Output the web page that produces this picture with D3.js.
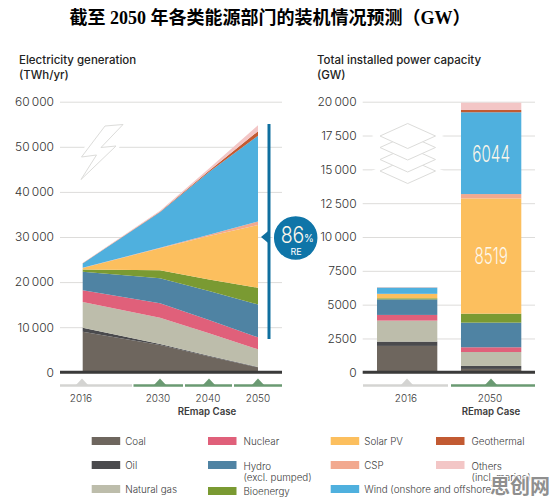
<!DOCTYPE html>
<html>
<head>
<meta charset="utf-8">
<script src="https://cdn.jsdelivr.net/npm/d3@7/dist/d3.min.js"></script>
<style>
html,body{margin:0;padding:0;background:#fff;}
svg{display:block;}
text{font-family:Inter,"Open Sans",sans-serif;fill:#3c3c3c;}
.domain{display:none;}
</style>
</head>
<body>
<svg width="556" height="504"></svg>
<script>
var keys = ["Coal","Oil","Natural gas","Nuclear","Hydro","Bioenergy","Solar PV","CSP","Wind","Geothermal","Others"]
var colors = ["#6e665e","#4a4a4d","#bdbdab","#e0607a","#4f83a3","#7a9a32","#fcbf5e","#f2a98f","#4fb0de","#c25a32","#f3c6c6"]

// left chart, thickness of each layer in TWh/yr
var genYears = [2016,2030,2040,2050]
var genCoal = [9000,6050,3500,1100]
var genOil = [900,250,150,100]
var genGas = [5700,5800,5000,3900]
var genNuclear = [2600,3200,2950,2650]
var genHydro = [4100,5550,6400,7300]
var genBio = [500,1750,2600,3700]
var genSolar = [350,4900,9600,13900]
var genCsp = [50,100,300,800]
var genWind = [950,7900,13900,19000]
var genGeo = [30,100,300,1000]
var genOthers = [70,200,500,1350]
var genTicks = [0,10000,20000,30000,40000,50000,60000]
var genTickLabels = ["0","10\u2009000","20\u2009000","30\u2009000","40\u2009000","50\u2009000","60\u2009000"]

// right chart, GW
var capYears = ["2016","2050"]
var cap2016 = [1950,320,1550,420,1150,80,320,10,460,10,20]
var cap2050 = [250,220,1030,350,1820,665,8519,321,6044,170,540]
var capTicks = [0,2500,5000,7500,10000,12500,15000,17500,20000]
var capTickLabels = ["0","2500","5000","7500","10\u2009000","12\u2009500","15\u2009000","17\u2009500","20\u2009000"]

var genSeries = [genCoal,genOil,genGas,genNuclear,genHydro,genBio,genSolar,genCsp,genWind,genGeo,genOthers]
var legendLabels = [["Coal"],["Oil"],["Natural gas"],["Nuclear"],["Hydro","(excl. pumped)"],["Bioenergy"],["Solar PV"],["CSP"],["Wind (onshore and offshore)"],["Geothermal"],["Others","(incl. marine)"]]

var svg = d3.select("svg")
var green = "#6a9a72", gray = "#d4d4d2"

svg.append("text").attr("x",270).attr("y",24).attr("text-anchor","middle")
   .style("font-family",'"Liberation Serif","Noto Sans CJK SC",serif')
   .style("font-weight","bold").style("font-size","18px").style("fill","#000")
   .text("截至 2050 年各类能源部门的装机情况预测（GW）")

var y1 = d3.scaleLinear().domain([0,60000]).range([372.3,101.7])
var y2 = d3.scaleLinear().domain([0,20000]).range([372.3,101.7])
var x1 = d3.scaleLinear().domain(genYears).range([82.7,160,209,258])
var x2 = d3.scaleBand().domain(capYears).range([377,521.3]).paddingInner(0.282)

var drawAxis = function(scale,left,width,ticks,labels)
{
  var g = svg.append("g").attr("transform","translate("+left+",0)")
             .call(d3.axisLeft(scale).tickValues(ticks).tickSize(-width).tickPadding(6)
             .tickFormat(function(d,i){ return labels[i] }))
  g.selectAll(".tick line").attr("stroke","#dddcda").attr("stroke-width",1)
  g.selectAll(".tick text").style("font-size","12px").style("font-weight","300").style("fill","#333")
  svg.append("line").attr("x1",left).attr("x2",left+width)
     .attr("y1",scale(0)).attr("y2",scale(0))
     .attr("stroke","#3a3a3a").attr("stroke-width",3).attr("class","base")
}
drawAxis(y1,60,222,genTicks,genTickLabels)
drawAxis(y2,362.7,172.3,capTicks,capTickLabels)

// icons sit on the gridlines with a white halo
svg.append("polygon").attr("points","123,124.5 105,126 81.5,157 96.5,155 81,179.5 116,146 101,147.5")
   .attr("fill","#fff").attr("stroke","#fff").attr("stroke-width",7).attr("stroke-linejoin","round")
svg.append("polygon").attr("points","123,124.5 105,126 81.5,157 96.5,155 81,179.5 116,146 101,147.5")
   .attr("fill","#fff").attr("stroke","#dcdcda").attr("stroke-width",1)
var stack = [171,159.5,147.5,136]
svg.selectAll(".halo").data(stack).enter().append("polygon").attr("class","halo")
   .attr("points",function(d){ return "380,"+d+" 407.7,"+(d-12.5)+" 435.5,"+d+" 407.7,"+(d+12.5) })
   .attr("fill","#fff").attr("stroke","#fff").attr("stroke-width",7)
svg.selectAll(".sheet").data(stack).enter().append("polygon").attr("class","sheet")
   .attr("points",function(d){ return "380,"+d+" 407.7,"+(d-12.5)+" 435.5,"+d+" 407.7,"+(d+12.5) })
   .attr("fill","#fff").attr("stroke","#dcdcda").attr("stroke-width",1)

// stacked area
var genRows = genYears.map(function(year,i)
{
  var row = {year:year}
  keys.forEach(function(k,j){ row[k] = genSeries[j][i] })
  return row
})
var area = d3.area().x(function(d){ return x1(d.data.year) })
             .y0(function(d){ return y1(d[0]) }).y1(function(d){ return y1(d[1]) })
svg.selectAll(".layer").data(d3.stack().keys(keys)(genRows)).enter().append("path")
   .attr("class","layer").attr("d",area)
   .attr("fill",function(d,i){ return colors[i] })

// stacked bars
var capRows = capYears.map(function(year,i)
{
  var row = {year:year}
  keys.forEach(function(k,j){ row[k] = (i==0 ? cap2016 : cap2050)[j] })
  return row
})
d3.stack().keys(keys)(capRows).forEach(function(s,i)
{
  svg.selectAll(".bar"+i).data(s).enter().append("rect")
     .attr("x",function(d){ return x2(d.data.year) })
     .attr("width",x2.bandwidth())
     .attr("y",function(d){ return y2(d[1]) })
     .attr("height",function(d){ return y2(d[0])-y2(d[1]) })
     .attr("fill",colors[i])
})
svg.selectAll(".base").raise()

// narrow digits, the installed fonts have no condensed face
var narrow = function(x,y,size,scale,txt)
{
  svg.append("text").attr("transform","translate("+x+","+y+") scale("+scale+",1)")
     .attr("text-anchor","middle")
     .style("font-size",size+"px").style("font-weight","300").style("fill","#fdf7ea")
     .text(txt)
}
narrow(x2("2050")+x2.bandwidth()/2,y2(8600)+8.5,23,0.66,cap2050[6])
narrow(x2("2050")+x2.bandwidth()/2,y2(16150)+8.5,23,0.66,cap2050[8])

// 86% marker
svg.append("line").attr("x1",269).attr("x2",269).attr("y1",124).attr("y2",339)
   .attr("stroke","#0f6f9f").attr("stroke-width",3)
svg.append("polygon").attr("points","261,237 270,229.5 270,244.5").attr("fill","#0f6f9f")
svg.append("circle").attr("cx",295.7).attr("cy",238).attr("r",22.5)
   .attr("fill","#0f75a8").attr("stroke","#fff").attr("stroke-width",1.5)
narrow(292.5,242.5,23,0.85,"86")
svg.append("text").attr("x",309).attr("y",242).attr("text-anchor","middle")
   .style("font-size","10px").style("fill","#fff").text("%")
svg.append("text").attr("x",296).attr("y",255).attr("text-anchor","middle")
   .style("font-size","9px").style("fill","#fff").text("RE")

// chart titles
var titles = [[19,"Electricity generation","(TWh/yr)"],[317,"Total installed power capacity","(GW)"]]
titles.forEach(function(t)
{
  svg.append("text").attr("x",t[0]).attr("y",64).style("font-size","11.5px").style("font-weight","500").style("fill","#222").text(t[1])
  svg.append("text").attr("x",t[0]).attr("y",79).style("font-size","11.5px").style("font-weight","500").style("fill","#222").text(t[2])
})

// year strip under the axes
var strip = [[60,132,82,gray],[133.5,183,160,green],[185,232,209,green],[234,282,258,green],[363,448,407,gray],[451,535,491,green]]
strip.forEach(function(s)
{
  svg.append("line").attr("x1",s[0]).attr("x2",s[1]).attr("y1",385.5).attr("y2",385.5).attr("stroke",s[3]).attr("stroke-width",2.5)
  svg.append("polygon").attr("points",(s[2]-7)+",386 "+s[2]+",378.5 "+(s[2]+7)+",386").attr("fill",s[3])
})
var yearLabels = [[81,"2016"],[158,"2030"],[208,"2040"],[258,"2050"],[406,"2016"],[490,"2050"]]
yearLabels.forEach(function(l)
{
  svg.append("text").attr("x",l[0]).attr("y",402).attr("text-anchor","middle")
     .style("font-size","10px").style("font-weight","300").text(l[1])
})
var remap = [207,491]
remap.forEach(function(x)
{
  svg.append("text").attr("x",x).attr("y",414.5).attr("text-anchor","middle")
     .style("font-size","9.7px").style("font-weight","600").text("REmap Case")
})

// legend
var legendX = [91.7,91.7,91.7,208,208,208,330.7,330.7,330.7,436,436]
var legendY = [441,465,489,441,465,491,441,465,489,441,465]
keys.forEach(function(k,i)
{
  svg.append("rect").attr("x",legendX[i]).attr("y",legendY[i]-4).attr("width",28.5).attr("height",8).attr("fill",colors[i])
  legendLabels[i].forEach(function(line,j)
  {
    svg.append("text").attr("x",legendX[i]+(legendX[i]==91.7||legendX[i]==330.7?33.5:35.5))
       .attr("y",legendY[i]+3.5+j*11+(legendLabels[i].length>1?1:0))
       .style("font-size","9.8px").style("font-weight","300").text(line)
  })
})

// watermark
svg.append("text").attr("x",520).attr("y",494).attr("text-anchor","middle")
   .style("font-family",'"Noto Sans CJK SC",sans-serif').style("font-weight","bold")
   .style("font-size","20px").style("fill","#8f8f8f").style("stroke","#fff").style("stroke-width",2)
   .style("paint-order","stroke").text("思创网")
</script>
</body>
</html>
